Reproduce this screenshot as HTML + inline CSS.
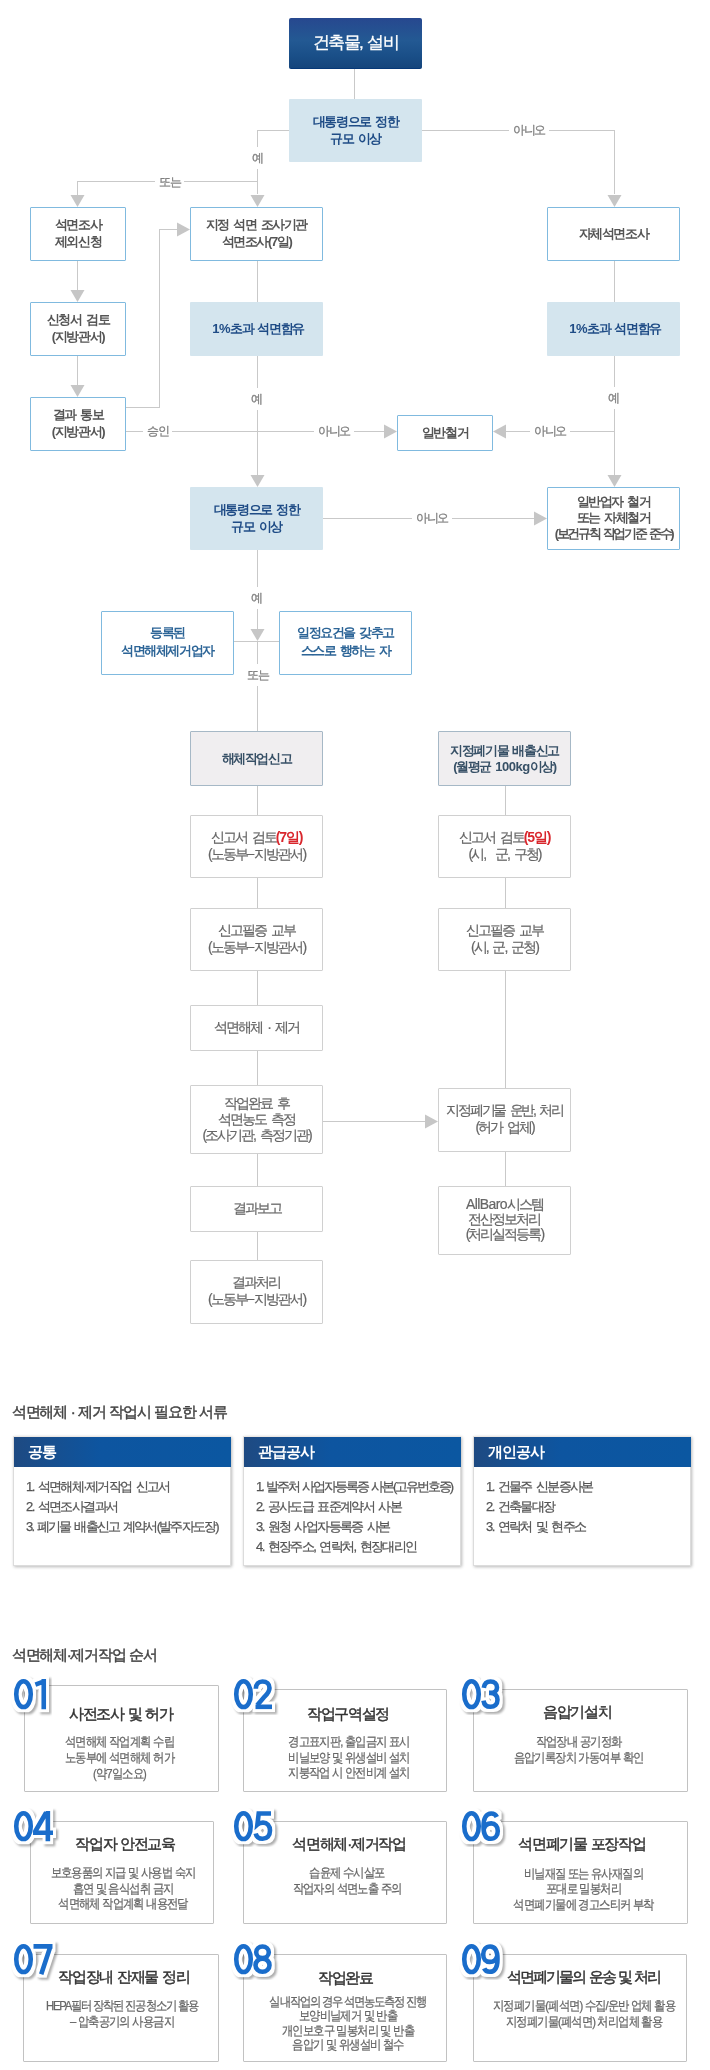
<!DOCTYPE html>
<html><head><meta charset="utf-8">
<style>
*{margin:0;padding:0;box-sizing:border-box}
html,body{width:710px;height:2070px;overflow:hidden;background:#fff}
#wrap{position:absolute;left:0;top:0;width:710px;height:2070px;will-change:transform}
body{position:relative;font-family:"Liberation Sans",sans-serif;color:#555}
.a{position:absolute}
.bx{position:absolute;border-radius:1px;display:flex;align-items:center;justify-content:center;text-align:center;font-size:13px;line-height:16px;letter-spacing:-1.4px;word-spacing:2px}
.bl{border:1px solid #80badf;background:#fff;color:#555;font-weight:bold;line-height:17px}
.bl p,.lb p,.bt p{top:-1px}
.lb{background:#d4e5ee;color:#1f4c86;font-weight:bold;line-height:17px}
.gr{border:1px solid #a6b8c6;background:#f0eef0;color:#375066;font-weight:bold;word-spacing:2px}
.wg{border:1px solid #d0d0d0;background:#fff;color:#666;font-size:14px;line-height:17px;letter-spacing:-2px;word-spacing:3px;-webkit-text-stroke:.2px #666}
.bx p{position:relative}
.wg p{top:-1px}
.bt{border:1px solid #80badf;background:#fff;color:#2d6597;font-weight:bold}
.h{position:absolute;height:1px;background:#c9c9c9}
.v{position:absolute;width:1px;background:#c9c9c9}
.ad{position:absolute;width:15px;height:12px;background:#c6c6c6;clip-path:polygon(0.5px 0,14.5px 0,7.5px 12px)}
.ar{position:absolute;width:13px;height:15px;background:#c6c6c6;clip-path:polygon(0 0.5px,13px 7.5px,0 14.5px)}
.al{position:absolute;width:13px;height:15px;background:#c6c6c6;clip-path:polygon(13px 0.5px,0 7.5px,13px 14.5px)}
.t{position:absolute;font-size:12px;line-height:14px;color:#828282;letter-spacing:-1.3px;white-space:nowrap;background:#fff;-webkit-text-stroke:.3px #828282}
.red{color:#d9262c;font-weight:bold;-webkit-text-stroke:0 #d9262c;letter-spacing:-1.2px}

.st{position:absolute;left:12px;font-size:15px;line-height:20px;color:#444;-webkit-text-stroke:.45px #444;letter-spacing:-1.3px;word-spacing:1px;white-space:nowrap}
.cd{position:absolute;top:1436px;width:218px;height:130px;background:#fff;border:1px solid #dcdcdc;border-top-color:#ece8e4;box-shadow:1px 1px 3px rgba(0,0,0,.28)}
.cd .hd{height:30px;margin:0 -1px 0 0;line-height:29px!important;background:linear-gradient(90deg,#1e4a82 0%,#0d55a0 40%,#0b57a1 100%);color:#fff;font-weight:bold;font-size:15px;line-height:30px;padding-left:14px;letter-spacing:-1px}
.cd ul{list-style:none;padding:10px 0 0 12px;font-size:13px;line-height:20px;color:#555;-webkit-text-stroke:.25px #555;letter-spacing:-1.6px;word-spacing:2px;white-space:nowrap}
.sc{position:absolute;border:1px solid #c2c2c2;border-radius:1px;background:#fff;text-align:center}
.sc h4{position:absolute;font-size:15px;line-height:20px;color:#333;font-weight:normal;-webkit-text-stroke:.45px #333;letter-spacing:-1.3px;word-spacing:1px;white-space:nowrap}
.sc p{position:absolute;font-size:13px;line-height:16px;color:#666;-webkit-text-stroke:.25px #666;letter-spacing:-1px;white-space:nowrap;transform:scaleX(.87)}
.num{position:absolute;overflow:visible}
</style></head><body><div id="wrap">
<svg width="0" height="0" style="position:absolute"><defs>
<filter id="nf" x="-30%" y="-30%" width="160%" height="160%" color-interpolation-filters="sRGB">
<feMorphology in="SourceAlpha" operator="dilate" radius="3" result="d"/>
<feFlood flood-color="#fff"/><feComposite in2="d" operator="in" result="w"/>
<feGaussianBlur in="d" stdDeviation="1.3" result="b"/><feOffset in="b" dx="2" dy="2" result="o"/>
<feFlood flood-color="#000" flood-opacity=".32"/><feComposite in2="o" operator="in" result="s"/>
<feMerge><feMergeNode in="s"/><feMergeNode in="w"/><feMergeNode in="SourceGraphic"/></feMerge>
</filter>
<g id="d0"><ellipse cx="9.5" cy="15.15" rx="7.25" ry="12.9"/></g>
<g id="d1"><path d="M10.75 0V30.3M2.4 5.6L9 3.2"/></g>
<g id="d2"><path d="M2.8 9.8C2.9 5 5.6 2.5 9.5 2.5C13.6 2.5 16.5 5.1 16.5 9C16.5 12.4 14.5 14.8 11.6 17.6L4.2 26.3"/><path d="M2.5 27.8H19"/></g>
<g id="d3"><path d="M2.8 8.8C3.4 4.7 6 2.5 9.5 2.5C13.6 2.5 16 5 16 8.4C16 11.9 13.4 13.9 9.3 13.9H8M9.3 13.9C13.8 13.9 16.5 16.6 16.5 20.8C16.5 25.3 13.5 27.8 9.5 27.8C5.6 27.8 3 25.4 2.5 21.6"/></g>
<g id="d4"><path d="M14.85 0V30.3M0 21.8H20M13.2 1.5L2.2 20.5"/></g>
<g id="d5"><path d="M18 2.5H5.7L4.4 13.6C5.9 12.3 7.8 11.6 10 11.6C14.1 11.6 17 14.7 17 19.6C17 24.9 13.9 27.8 9.6 27.8C6 27.8 3.5 25.9 2.7 22.5"/></g>
<g id="d6"><path d="M15.8 6C14.8 3.6 12.8 2.5 10.2 2.5C5.2 2.5 2.5 7.4 2.5 15.4C2.5 23.8 5.5 27.8 9.8 27.8C14.1 27.8 16.8 24.5 16.8 19.9C16.8 15.3 14.2 12.4 10.2 12.4C6.7 12.4 3.8 14.4 3 17.8"/></g>
<g id="d7"><path d="M0.5 2.4H19.5M17.2 3L8.2 30.3"/></g>
<g id="d8"><ellipse cx="9.5" cy="8.3" rx="6.3" ry="5.8"/><ellipse cx="9.5" cy="21.2" rx="7" ry="6.6"/></g>
<g id="d9"><path d="M3.2 24.3C4.2 26.7 6.2 27.8 8.8 27.8C13.8 27.8 16.5 22.9 16.5 14.9C16.5 6.5 13.5 2.5 9.2 2.5C4.9 2.5 2.2 5.8 2.2 10.4C2.2 15 4.8 17.9 8.8 17.9C12.3 17.9 15.2 15.9 16 12.5"/></g>
</defs></svg>
<!-- top -->
<div class="bx" style="left:289px;top:18px;width:133px;height:51px;background:linear-gradient(#27488f 0%,#235993 45%,#1a4f88 75%,#15457c 100%);border-bottom:1px solid #063878;border-radius:2px;color:#fff;font-size:17px;letter-spacing:-1.6px;word-spacing:2px;-webkit-text-stroke:.3px #fff"><p>건축물, 설비</p></div>
<div class="v" style="left:354px;top:69px;height:30px"></div>
<div class="bx lb" style="left:289px;top:99px;width:133px;height:63px"><p>대통령으로 정한<br>규모 이상</p></div>
<!-- left branch -->
<div class="h" style="left:257px;top:130px;width:32px"></div>
<div class="v" style="left:257px;top:130px;height:64px"></div>
<div class="ad" style="left:250px;top:195px"></div>
<div class="h" style="left:77px;top:181px;width:180px"></div>
<div class="v" style="left:77px;top:181px;height:14px"></div>
<div class="ad" style="left:70px;top:195px"></div>
<!-- right branch -->
<div class="h" style="left:422px;top:130px;width:192px"></div>
<div class="v" style="left:614px;top:130px;height:64px"></div>
<div class="ad" style="left:607px;top:195px"></div>

<div class="bx bl" style="left:30px;top:207px;width:96px;height:54px"><p>석면조사<br>제외신청</p></div>
<div class="bx bl" style="left:190px;top:207px;width:133px;height:54px"><p>지정 석면 조사기관<br>석면조사(7일)</p></div>
<div class="bx bl" style="left:547px;top:207px;width:133px;height:54px"><p>자체석면조사</p></div>

<div class="v" style="left:77px;top:261px;height:29px"></div>
<div class="ad" style="left:70px;top:290px"></div>
<div class="bx bl" style="left:30px;top:302px;width:96px;height:54px"><p>신청서 검토<br>(지방관서)</p></div>
<div class="v" style="left:77px;top:356px;height:29px"></div>
<div class="ad" style="left:70px;top:385px"></div>
<div class="bx bl" style="left:30px;top:397px;width:96px;height:54px"><p>결과 통보<br>(지방관서)</p></div>
<div class="h" style="left:126px;top:407px;width:34px"></div>
<div class="v" style="left:159px;top:229px;height:179px"></div>
<div class="h" style="left:159px;top:229px;width:18px"></div>
<div class="ar" style="left:177px;top:222px"></div>

<div class="v" style="left:257px;top:261px;height:41px"></div>
<div class="bx lb" style="left:190px;top:302px;width:133px;height:54px"><p style="left:1.5px"><span style="letter-spacing:-0.5px">1%</span>초과 석면함유</p></div>
<div class="v" style="left:614px;top:261px;height:41px"></div>
<div class="bx lb" style="left:547px;top:302px;width:133px;height:54px"><p style="left:1.5px"><span style="letter-spacing:-0.5px">1%</span>초과 석면함유</p></div>

<div class="v" style="left:257px;top:356px;height:119px"></div>
<div class="ad" style="left:250px;top:475px"></div>
<div class="v" style="left:614px;top:356px;height:119px"></div>
<div class="ad" style="left:607px;top:475px"></div>

<div class="h" style="left:126px;top:431px;width:258px"></div>
<div class="ar" style="left:384px;top:424px"></div>
<div class="bx bl" style="left:397px;top:415px;width:96px;height:36px"><p>일반철거</p></div>
<div class="al" style="left:493px;top:424px"></div>
<div class="h" style="left:506px;top:431px;width:108px"></div>

<div class="bx lb" style="left:190px;top:487px;width:133px;height:63px"><p>대통령으로 정한<br>규모 이상</p></div>
<div class="bx bl" style="left:547px;top:487px;width:133px;height:63px;line-height:16px"><p>일반업자 철거<br>또는 자체철거<br><span style="letter-spacing:-2.3px;word-spacing:2px">(보건규칙 작업기준 준수)</span></p></div>
<div class="h" style="left:323px;top:518px;width:211px"></div>
<div class="ar" style="left:534px;top:511px"></div>

<div class="v" style="left:257px;top:550px;height:79px"></div>
<div class="ad" style="left:250px;top:629px"></div>
<div class="h" style="left:233px;top:641px;width:46px"></div>
<div class="bx bt" style="left:101px;top:611px;width:133px;height:64px;line-height:18px"><p>등록된<br>석면해체제거업자</p></div>
<div class="bx bt" style="left:279px;top:611px;width:133px;height:64px;line-height:18px"><p>일정요건을 갖추고<br>스스로 행하는 자</p></div>
<div class="v" style="left:257px;top:641px;height:90px"></div>

<div class="bx gr" style="left:190px;top:731px;width:133px;height:55px"><p>해체작업신고</p></div>
<div class="bx gr" style="left:438px;top:731px;width:133px;height:55px"><p>지정폐기물 배출신고<br>(월평균 <span style="letter-spacing:-0.5px">100kg</span>이상)</p></div>

<div class="v" style="left:257px;top:786px;height:29px"></div>
<div class="bx wg" style="left:190px;top:815px;width:133px;height:63px"><p>신고서 검토<span class="red">(7일)</span><br>(노동부<span style="letter-spacing:0;position:relative;top:-1px">–</span>지방관서)</p></div>
<div class="v" style="left:257px;top:878px;height:30px"></div>
<div class="bx wg" style="left:190px;top:908px;width:133px;height:63px"><p>신고필증 교부<br>(노동부<span style="letter-spacing:0;position:relative;top:-1px">–</span>지방관서)</p></div>
<div class="v" style="left:257px;top:971px;height:34px"></div>
<div class="bx wg" style="left:190px;top:1005px;width:133px;height:46px"><p>석면해체 · 제거</p></div>
<div class="v" style="left:257px;top:1051px;height:34px"></div>
<div class="bx wg" style="left:190px;top:1085px;width:133px;height:69px;line-height:16px"><p>작업완료 후<br>석면농도 측정<br>(조사기관, 측정기관)</p></div>
<div class="v" style="left:257px;top:1154px;height:32px"></div>
<div class="bx wg" style="left:190px;top:1186px;width:133px;height:46px"><p>결과보고</p></div>
<div class="v" style="left:257px;top:1232px;height:28px"></div>
<div class="bx wg" style="left:190px;top:1260px;width:133px;height:64px"><p>결과처리<br>(노동부<span style="letter-spacing:0;position:relative;top:-1px">–</span>지방관서)</p></div>

<div class="v" style="left:505px;top:786px;height:29px"></div>
<div class="bx wg" style="left:438px;top:815px;width:133px;height:63px"><p>신고서 검토<span class="red">(5일)</span><br>(시,&nbsp; 군, 구청)</p></div>
<div class="v" style="left:505px;top:878px;height:30px"></div>
<div class="bx wg" style="left:438px;top:908px;width:133px;height:63px"><p>신고필증 교부<br>(시, 군, 군청)</p></div>
<div class="v" style="left:505px;top:971px;height:117px"></div>
<div class="bx wg" style="left:438px;top:1088px;width:133px;height:64px"><p><span style="letter-spacing:-2.3px">지정폐기물 운반, 처리</span><br>(허가 업체)</p></div>
<div class="h" style="left:323px;top:1121px;width:102px"></div>
<div class="ar" style="left:425px;top:1114px"></div>
<div class="v" style="left:505px;top:1152px;height:34px"></div>
<div class="bx wg" style="left:438px;top:1186px;width:133px;height:69px;line-height:15px"><p><span style="letter-spacing:-0.6px">AllBaro</span>시스템<br>전산정보처리<br>(처리실적등록)</p></div>


<div class="t" style="left:252px;top:147px;padding:4px 0">예</div>
<div class="t" style="left:155px;top:175px;padding:0 4px">또는</div>
<div class="t" style="left:509px;top:123px;padding:0 4px">아니오</div>
<div class="t" style="left:251px;top:388px;padding:4px 0">예</div>
<div class="t" style="left:608px;top:387px;padding:4px 0">예</div>
<div class="t" style="left:143px;top:424px;padding:0 4px">승인</div>
<div class="t" style="left:314px;top:424px;padding:0 4px">아니오</div>
<div class="t" style="left:530px;top:424px;padding:0 4px">아니오</div>
<div class="t" style="left:412px;top:511px;padding:0 4px">아니오</div>
<div class="t" style="left:251px;top:587px;padding:4px 0">예</div>
<div class="t" style="left:247px;top:664px;padding:4px 0">또는</div>
<div class="st" style="top:1402px">석면해체 · 제거 작업시 필요한 서류</div>
<div class="cd" style="left:13px"><div class="hd">공통</div><ul><li>1. 석면해체·제거작업 신고서</li><li>2. 석면조사결과서</li><li style="letter-spacing:-1.8px">3. 폐기물 배출신고 계약서(발주자도장)</li></ul></div>
<div class="cd" style="left:243px"><div class="hd">관급공사</div><ul><li style="letter-spacing:-2.1px">1. 발주처 사업자등록증 사본(고유번호증)</li><li>2. 공사도급 표준계약서 사본</li><li>3. 원청 사업자등록증 사본</li><li>4. 현장주소, 연락처, 현장대리인</li></ul></div>
<div class="cd" style="left:473px"><div class="hd">개인공사</div><ul><li>1. 건물주 신분증사본</li><li>2. 건축물대장</li><li>3. 연락처 및 현주소</li></ul></div>


<div class="st" style="top:1645px">석면해체·제거작업 순서</div>
<div class="sc" style="left:24px;top:1685px;width:195px;height:107px"><h4 style="top:17.5px;left:-0.7px;right:0.7px;">사전조사 및 허가</h4><p style="top:48px;left:-2.25px;right:2.25px;line-height:16px">석면해체 작업계획 수립<br>노동부에 석면해체 허가<br>(약7일소요)</p></div>
<div class="sc" style="left:243px;top:1689px;width:204px;height:103px"><h4 style="top:13.6px;left:3px;right:-3px;">작업구역설정</h4><p style="top:44.25px;left:4.3px;right:-4.3px;line-height:15.5px">경고표지판, 출입금지 표시<br>비닐보양 및 위생설비 설치<br>지붕작업 시 안전비계 설치</p></div>
<div class="sc" style="left:473px;top:1689px;width:215px;height:103px"><h4 style="top:12.3px;left:-3.3px;right:3.3px;">음압기설치</h4><p style="top:44px;left:-2.3px;right:2.3px;line-height:16.4px">작업장내 공기정화<br>음압기록장치 가동여부 확인</p></div>
<div class="sc" style="left:30px;top:1821px;width:184px;height:103px"><h4 style="top:11.9px;left:3px;right:-3px;">작업자 안전교육</h4><p style="top:43.45px;left:1.3px;right:-1.3px;line-height:15.5px">보호용품의 지급 및 사용법 숙지<br>흡연 및 음식섭취 금지<br>석면해체 작업계획 내용전달</p></div>
<div class="sc" style="left:243px;top:1821px;width:204px;height:103px"><h4 style="top:11.9px;left:4px;right:-4px;">석면해체·제거작업</h4><p style="top:43.3px;left:1.8px;right:-1.8px;line-height:15.8px">습윤제 수시살포<br>작업자의 석면노출 주의</p></div>
<div class="sc" style="left:473px;top:1821px;width:215px;height:103px"><h4 style="top:11.9px;left:1.3px;right:-1.3px;">석면폐기물 포장작업</h4><p style="top:43.95px;left:3.2px;right:-3.2px;line-height:15.5px">비닐재질 또는 유사재질의<br>포대로 밀봉처리<br>석면폐기물에 경고스티커 부착</p></div>
<div class="sc" style="left:23px;top:1954px;width:196px;height:108px"><h4 style="top:12.1px;left:2.9px;right:-2.9px;">작업장내 잔재물 정리</h4><p style="top:42.8px;left:1.2px;right:-1.2px;line-height:15.8px"><span style="letter-spacing:-1.4px">HEPA필터 장착된 진공청소기 활용</span><br>– 압축공기의 사용금지</p></div>
<div class="sc" style="left:243px;top:1954px;width:204px;height:108px"><h4 style="top:12.6px;left:0.4px;right:-0.4px;">작업완료</h4><p style="top:39.5px;left:2.6px;right:-2.6px;line-height:14.6px"><span style="letter-spacing:-1.4px">실내작업의 경우 석면농도측정 진행</span><br>보양비닐제거 및 반출<br>개인보호구 밀봉처리 및 반출<br>음압기 및 위생설비 철수</p></div>
<div class="sc" style="left:473px;top:1954px;width:214px;height:108px"><h4 style="top:12.1px;left:3.7px;right:-3.7px;letter-spacing:-2px;">석면폐기물의 운송 및 처리</h4><p style="top:43.4px;left:4.2px;right:-4.2px;line-height:15.8px">지정폐기물(폐석면) 수집/운반 업체 활용<br>지정폐기물(폐석면) 처리업체 활용</p></div>
<svg class="num" style="left:7.6px;top:1672.7px" width="58" height="46"><g transform="translate(6,6)" filter="url(#nf)" fill="none" stroke="#1a6dcb" stroke-width="4.6"><use href="#d0"/><use href="#d1" x="19"/></g></svg>
<svg class="num" style="left:227.6px;top:1672.7px" width="58" height="46"><g transform="translate(6,6)" filter="url(#nf)" fill="none" stroke="#1a6dcb" stroke-width="4.6"><use href="#d0"/><use href="#d2" x="19"/></g></svg>
<svg class="num" style="left:455.6px;top:1672.7px" width="58" height="46"><g transform="translate(6,6)" filter="url(#nf)" fill="none" stroke="#1a6dcb" stroke-width="4.6"><use href="#d0"/><use href="#d3" x="19"/></g></svg>
<svg class="num" style="left:7.5px;top:1804.5px" width="58" height="46"><g transform="translate(6,6)" filter="url(#nf)" fill="none" stroke="#1a6dcb" stroke-width="4.6"><use href="#d0"/><use href="#d4" x="19"/></g></svg>
<svg class="num" style="left:227.6px;top:1804.6px" width="58" height="46"><g transform="translate(6,6)" filter="url(#nf)" fill="none" stroke="#1a6dcb" stroke-width="4.6"><use href="#d0"/><use href="#d5" x="19"/></g></svg>
<svg class="num" style="left:455.6px;top:1804.6px" width="58" height="46"><g transform="translate(6,6)" filter="url(#nf)" fill="none" stroke="#1a6dcb" stroke-width="4.6"><use href="#d0"/><use href="#d6" x="19"/></g></svg>
<svg class="num" style="left:7.6px;top:1937.6px" width="58" height="46"><g transform="translate(6,6)" filter="url(#nf)" fill="none" stroke="#1a6dcb" stroke-width="4.6"><use href="#d0"/><use href="#d7" x="19"/></g></svg>
<svg class="num" style="left:227.5px;top:1937.5px" width="58" height="46"><g transform="translate(6,6)" filter="url(#nf)" fill="none" stroke="#1a6dcb" stroke-width="4.6"><use href="#d0"/><use href="#d8" x="19"/></g></svg>
<svg class="num" style="left:455.6px;top:1937.6px" width="58" height="46"><g transform="translate(6,6)" filter="url(#nf)" fill="none" stroke="#1a6dcb" stroke-width="4.6"><use href="#d0"/><use href="#d9" x="19"/></g></svg>
</div></body></html>
